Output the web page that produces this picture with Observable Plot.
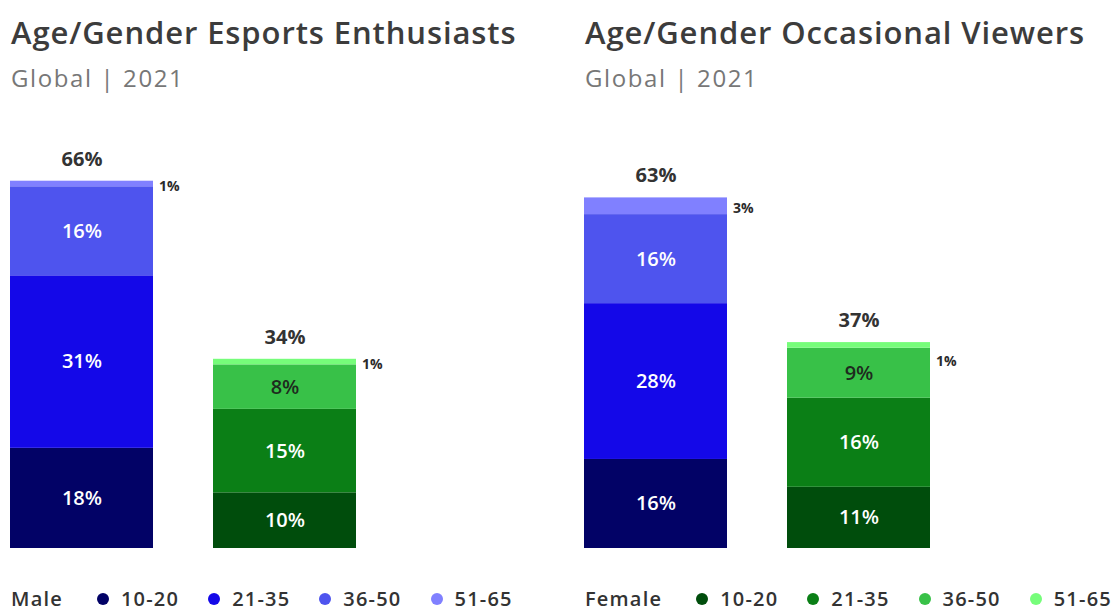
<!DOCTYPE html>
<html>
<head>
<meta charset="utf-8">
<script src="https://cdn.jsdelivr.net/npm/d3@7"></script>
<script src="https://cdn.jsdelivr.net/npm/@observablehq/plot@0.6"></script>
<style>
  html, body { margin: 0; padding: 0; background: #fff; width: 1117px; height: 612px; overflow: hidden; }
  body { font-family: "Open Sans", "Noto Sans", sans-serif; position: relative; }
  .panel { position: absolute; top: 0; width: 560px; height: 612px; }
  .title { position: absolute; left: 11px; top: 11px; font-size: 31px; font-weight: 600; color: #3c3c3c; letter-spacing: 0.9px; white-space: nowrap; }
  .subtitle { position: absolute; left: 11px; top: 61px; font-size: 24px; font-weight: 400; color: #777; letter-spacing: 1.6px; white-space: nowrap; }
  .chart { position: absolute; left: 0; top: 100px; }
  .legend { position: absolute; left: 11px; top: 585px; font-size: 20px; color: #333; white-space: nowrap; display: flex; align-items: center; letter-spacing: 1.2px; }
  .legend .lab { font-weight: 600; margin-right: 34px; }
  .legend .item { display: flex; align-items: center; font-weight: 600; }
  .legend .dot { width: 12px; height: 12px; border-radius: 50%; display: inline-block; margin-right: 12px; }
</style>
</head>
<body>
<div class="panel" id="p0" style="left:0px"></div>
<div class="panel" id="p1" style="left:574px"></div>
<script>
// ---- data ----
const ages = ["10-20", "21-35", "36-50", "51-65"];
const genders = ["Male", "Female"];
const panelTitles = ["Age/Gender Esports Enthusiasts", "Age/Gender Occasional Viewers"];
const panelSubtitles = ["Global | 2021", "Global | 2021"];
const enthusiastsMale = [18, 31, 16, 1];
const enthusiastsFemale = [10, 15, 8, 1];
const occasionalMale = [16, 28, 16, 3];
const occasionalFemale = [11, 16, 9, 1];
const enthusiastsTotals = [66, 34];
const occasionalTotals = [63, 37];
const maleColors = ["#020266", "#1408e8", "#4e54ee", "#8080ff"];
const femaleColors = ["#004d0c", "#0b7f16", "#38c148", "#76fd7a"];
const legendGender = ["Male", "Female"];

// style: vertical offset (px) of the small top-segment labels, per panel and gender
const topLabelDy = [[3, 2], [2, 16]];

const panels = [
  { male: enthusiastsMale, female: enthusiastsFemale, totals: enthusiastsTotals },
  { male: occasionalMale, female: occasionalFemale, totals: occasionalTotals }
];

const colorDomain = [...ages.map(a => "Male|" + a), ...ages.map(a => "Female|" + a)];
const colorRange = [...maleColors, ...femaleColors];

panels.forEach((p, i) => {
  const el = document.getElementById("p" + i);
  const t = document.createElement("div"); t.className = "title"; t.textContent = panelTitles[i]; el.appendChild(t);
  const s = document.createElement("div"); s.className = "subtitle"; s.textContent = panelSubtitles[i]; el.appendChild(s);

  const rows = [];
  genders.forEach(g => {
    const vals = g === "Male" ? p.male : p.female;
    ages.forEach((a, k) => rows.push({ gender: g, age: a, value: vals[k], key: g + "|" + a, top: k === ages.length - 1, dark: g === "Female" && a === "36-50" }));
  });
  const totals = genders.map((g, k) => ({ gender: g, total: p.totals[k] }));

  const topLabel = (gi) => Plot.text(rows, Plot.stackY({ x: "gender", y: "value",
    text: d => (d.top && d.gender === genders[gi]) ? d.value + "%" : "",
    fill: "#2b2b2b", fontSize: 14, fontWeight: 700, textAnchor: "start", dx: 77, dy: topLabelDy[i][gi] }));

  const chart = Plot.plot({
    width: 560,
    height: 470,
    marginTop: 0, marginBottom: 0, marginLeft: 0, marginRight: 0,
    x: { domain: genders, range: [10, 357], paddingInner: 0.295, paddingOuter: 0, axis: null },
    y: { domain: [0, 80], range: [448, 448 - 80 * 5.565], axis: null },
    color: { domain: colorDomain, range: colorRange },
    style: { fontFamily: "'Open Sans', 'Noto Sans', sans-serif", overflow: "visible" },
    marks: [
      Plot.barY(rows, { x: "gender", y: "value", fill: "key" }),
      Plot.text(rows, Plot.stackY({ x: "gender", y: "value", text: d => d.top ? "" : d.value + "%",
        fill: d => d.dark ? "#1e2a1e" : "#ffffff", fontSize: 20, fontWeight: 600, letterSpacing: 0.8 })),
      topLabel(0),
      topLabel(1),
      Plot.text(totals, { x: "gender", y: "total", text: d => d.total + "%", dy: -22,
        fill: "#333", fontSize: 20, fontWeight: 700, letterSpacing: 1 })
    ]
  });
  chart.classList.add("chart");
  el.appendChild(chart);

  const lg = document.createElement("div"); lg.className = "legend";
  const lab = document.createElement("span"); lab.className = "lab"; lab.textContent = legendGender[i]; lg.appendChild(lab);
  const cols = i === 0 ? maleColors : femaleColors;
  ages.forEach((a, k) => {
    const it = document.createElement("span"); it.className = "item";
    it.style.marginRight = k < ages.length - 1 ? "29px" : "0";
    const d = document.createElement("span"); d.className = "dot"; d.style.background = cols[k];
    it.appendChild(d);
    const tx = document.createElement("span"); tx.textContent = a; it.appendChild(tx);
    lg.appendChild(it);
  });
  el.appendChild(lg);
});
</script>
</body>
</html>
